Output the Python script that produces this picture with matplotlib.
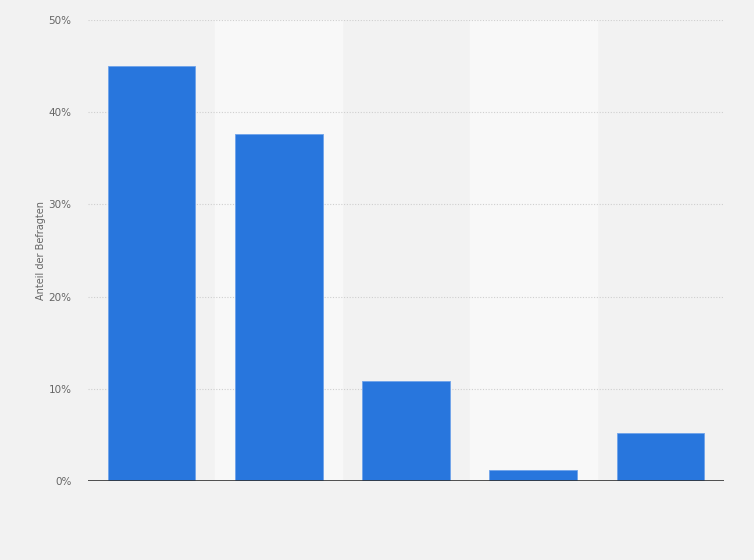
import numpy as np
import matplotlib.pyplot as plt
from matplotlib.ticker import FuncFormatter

categories = ['A', 'B', 'C', 'D', 'E']
anteil = [45.0, 37.6, 10.9, 1.2, 5.2]
y_ticks = [0, 10, 20, 30, 40, 50]

fig = plt.figure(figsize=(7.54, 5.6), dpi=100, facecolor='#f2f2f2')
ax = fig.add_axes([88/754, 1 - 481/560, 636/754, 461/560])
ax.set_facecolor('#f2f2f2')

x = np.arange(len(categories))

# hellere Streifen hinter jeder zweiten Kategorie
for i in x[1::2]:
    ax.axvspan(i - 0.5, i + 0.5, color='#f8f8f8', zorder=0)

ax.bar(x, anteil, width=0.69, color='#2876dd', edgecolor='#6fa3ea', linewidth=0.6, zorder=3)

ax.set_xlim(-0.5, len(categories) - 0.5)
ax.set_ylim(0, 50)
ax.set_yticks(y_ticks)
ax.yaxis.set_major_formatter(FuncFormatter(lambda v, p: f'{v:.0f}%'))
ax.set_xticks([])

for t in y_ticks[1:]:
    ax.axhline(t, color='#cfcfcf', linestyle=(0, (1, 1.5)), linewidth=0.8, zorder=1)
ax.axhline(0, color='#333333', linewidth=1.2, zorder=4)

for s in ax.spines.values():
    s.set_visible(False)
ax.tick_params(axis='y', length=0, labelsize=7.5, labelcolor='#666666', pad=12)

ax.set_ylabel('Anteil der Befragten', fontsize=7, color='#666666')
ax.yaxis.set_label_coords(-0.066, 0.5)

fig.savefig('out.png', dpi=100, facecolor=fig.get_facecolor())
